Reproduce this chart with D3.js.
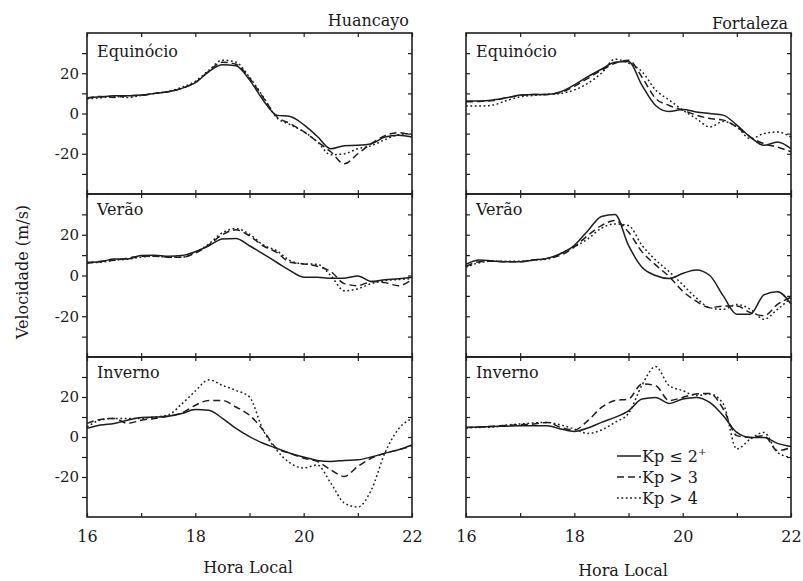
<!DOCTYPE html>
<html><head><meta charset="utf-8">
<script src="https://cdn.jsdelivr.net/npm/d3@7"></script>
<style>
body{margin:0;background:#fff}
svg{display:block}
text{font-family:"DejaVu Serif","Liberation Serif",serif;fill:#1a1a1a}
</style>
</head><body>
<svg id="chart" width="803" height="581"></svg>
<script>
// ---------- data ----------
const hours = [16,16.25,16.5,16.75,17,17.25,17.5,17.75,18,18.25,18.5,18.75,19,19.25,19.5,19.75,20,20.25,20.5,20.75,21,21.25,21.5,21.75,22];
const stations = ["Huancayo","Fortaleza"];
const seasons = ["Equinócio","Verão","Inverno"];
const seriesNames = ["Kp ≤ 2","Kp > 3","Kp > 4"];
const xTickValues = [16,17,18,19,20,21,22];
const xTickLabels = [16,18,20,22];
const yTickValues = [-30,-20,-10,0,10,20,30];
const yTickLabels = [-20,0,20];

// Huancayo - Equinócio
const huaEquiKp2 = [7.8,8.3,8.8,8.8,9.2,10,10.8,12.5,15.3,20.8,24.2,23.7,16.7,6.7,-0.8,-1.5,-5.5,-11.3,-17.5,-16,-15.8,-15,-11.7,-10.8,-11.7];
const huaEquiKp3 = [7.5,8.5,8,8.8,9,10,10.8,12.5,15.5,21,25.5,24.5,17.5,8,-1.5,-5,-9,-14,-19,-25,-20,-15,-11,-9.5,-11];
const huaEquiKp4 = [7.3,7.8,8.5,8,9,10,11,13,16,21.5,26.5,25.5,18,8.5,-2,-5.5,-9,-14,-20.5,-20,-17.5,-16,-13,-10.5,-10];
// Fortaleza - Equinócio
const forEquiKp2 = [6.2,6.2,6.7,7.8,9.2,9.5,9.5,10.8,14.2,18.3,22,25.5,25.8,14,4,1,2,0.8,0,-0.8,-5.8,-11.7,-15.8,-14.2,-17.5];
const forEquiKp3 = [5.8,6,6.5,7.8,9,9.5,9.5,10.5,13.5,17.5,21.5,25,26.5,18,7.5,4,1.7,-0.8,-2.5,-3.3,-6.7,-11.7,-15,-16.7,-19];
const forEquiKp4 = [3.7,3.7,4.2,6.5,8.3,9,9.5,10,11.7,15,20,27,25,20.8,11.7,6.7,1.7,-2.5,-6.7,-4,-6.7,-12.5,-10,-9.2,-11.7];
// Huancayo - Verão
const huaVerKp2 = [6.5,6.8,8.1,8.1,9.8,10,9.4,9.8,11.7,14.6,17.9,18.2,14.6,10.6,6.5,2.4,-0.8,-0.8,-1.3,-1.3,-0.2,-2.9,-2.1,-1.6,-0.8];
const huaVerKp3 = [6,7,7.5,8.5,9.5,9.5,9,9,11,15,20,22.4,19.5,14.6,11.4,6.5,5.7,4.5,2,-4,-5,-3,-3.5,-5,-2];
const huaVerKp4 = [6.3,6.5,7.5,8,9,9.5,9,9,11.5,15.5,21,23,20.3,15,12.2,7.3,5.7,5.5,0,-7.5,-6.5,-4,-2.5,-2,-1.5];
// Fortaleza - Verão
const forVerKp2 = [5.5,7.6,7.1,6.8,6.8,7.6,8.4,10.8,14.8,22,29,30,14.8,4,0,-1.5,1,2.7,0,-10,-19,-19,-9.5,-8,-14];
const forVerKp3 = [4.4,6.8,7,6.8,6.8,7.6,8.4,10,14,19.7,24.5,27,21.3,11.6,5.2,-0.5,-7.7,-12.6,-15.8,-15,-15,-18.2,-19.8,-14.2,-10.6];
const forVerKp4 = [4,6.3,7,7,7,7.6,8,10.8,14,18,23.2,25.3,24.5,14.8,7.6,1.9,-4.5,-11,-15.8,-16.6,-14.2,-16.6,-21.5,-16.6,-11];
// Huancayo - Inverno
const huaInvKp2 = [4.3,6,6.8,8.4,9.8,10,10.4,11.7,13.7,13.4,9.3,4.3,0.2,-3.1,-5.6,-8.1,-10,-11.7,-12.2,-11.7,-11.4,-10,-8.1,-6.4,-4];
const huaInvKp3 = [6.8,8.8,9.3,6.8,8.4,9.3,10.4,12,15.9,18.3,18.3,15,10.9,3.5,-5.6,-8.1,-10.6,-12.2,-16.4,-19.7,-14.7,-10.6,-8.1,-6.4,-4.5];
const huaInvKp4 = [5,8.5,9.3,9.3,9.3,10,11,16.5,23,28.6,25.8,23.3,20,3.5,-6.5,-13,-15.5,-14,-23,-33,-35,-26.4,-8,4,9.3];
// Fortaleza - Inverno
const forInvKp2 = [4.8,5,5.2,5.4,5.6,5.6,5.6,4,2.8,4.5,7.3,9.8,13.1,19,19.8,16.8,19,19.8,17.3,10.6,2.3,-0.2,-0.2,-3.2,-4.8];
const forInvKp3 = [4.8,5,5.4,5.8,6.2,6.5,7.3,4.8,3.5,8.2,14.8,18.2,19,26.5,25.7,18.2,19.8,21.5,21.8,14,0.7,-0.2,0.7,-6.8,-5.2];
const forInvKp4 = [4.5,4.8,5,6,6.5,7,7.3,6,4,1.8,3.5,7.3,11.8,26,35.2,25.7,23.2,20.7,21.5,16.5,-6,-1,2.3,-7.7,-10.2];

// grid of panels [row][col] -> three series
const panelSeries = [
  [[huaEquiKp2,huaEquiKp3,huaEquiKp4],[forEquiKp2,forEquiKp3,forEquiKp4]],
  [[huaVerKp2,huaVerKp3,huaVerKp4],[forVerKp2,forVerKp3,forVerKp4]],
  [[huaInvKp2,huaInvKp3,huaInvKp4],[forInvKp2,forInvKp3,forInvKp4]]
];

// ---------- layout ----------
const cols = [{x0:87,x1:412},{x0:466,x1:791}];
const rows = [{y0:33,y1:194},{y0:194,y1:357},{y0:357,y1:517}];
const ink = "#1e1e1e";
const dashes = [null,"7,4","1.8,2.6"];

const svg = d3.select("#chart");
svg.append("rect").attr("width",803).attr("height",581).attr("fill","#fff");

function styleAxis(g){
  g.select(".domain").remove();
  g.selectAll("line").attr("stroke",ink).attr("stroke-width",1.2);
  g.selectAll("text").attr("font-family",'"DejaVu Serif","Liberation Serif",serif')
    .attr("font-size",15).attr("fill",ink);
}

cols.forEach((c,ci)=>{
  const x = d3.scaleLinear().domain([16,22]).range([c.x0,c.x1]);
  rows.forEach((r,ri)=>{
    const y = d3.scaleLinear().domain([-40,40]).range([r.y1,r.y0]);
    const g = svg.append("g");

    // ticks
    g.append("g").attr("transform",`translate(0,${r.y1})`)
      .call(d3.axisBottom(x).tickValues(xTickValues).tickSize(-4).tickFormat("")).call(styleAxis);
    g.append("g").attr("transform",`translate(0,${r.y0})`)
      .call(d3.axisTop(x).tickValues(xTickValues).tickSize(-4).tickFormat("")).call(styleAxis);
    g.append("g").attr("transform",`translate(${c.x0},0)`)
      .call(d3.axisLeft(y).tickValues(yTickValues).tickSize(ci===0?5:-4).tickFormat("")).call(styleAxis);
    g.append("g").attr("transform",`translate(${c.x1},0)`)
      .call(d3.axisRight(y).tickValues(yTickValues).tickSize(-4).tickFormat("")).call(styleAxis);

    if(ci===0){
      g.append("g").attr("transform",`translate(${c.x0},0)`)
        .call(d3.axisLeft(y).tickValues(yTickLabels).tickSize(0).tickPadding(8).tickFormat(d=>d))
        .call(styleAxis);
    }
    if(ri===rows.length-1){
      g.append("g").attr("transform",`translate(0,${r.y1})`)
        .call(d3.axisBottom(x).tickValues(xTickLabels).tickSize(0).tickPadding(14).tickFormat(d=>d))
        .call(styleAxis).selectAll("text").attr("font-size",16);
    }

    // lines
    const line = d3.line().x((d,i)=>x(hours[i])).y(d=>y(d)).curve(d3.curveMonotoneX);
    panelSeries[ri][ci].forEach((vals,si)=>{
      g.append("path").datum(vals).attr("d",line)
        .attr("fill","none").attr("stroke",ink).attr("stroke-width",1.5)
        .attr("stroke-dasharray",dashes[si]).attr("stroke-linejoin","round");
    });

    // frame
    g.append("rect").attr("x",c.x0).attr("y",r.y0).attr("width",c.x1-c.x0).attr("height",r.y1-r.y0)
      .attr("fill","none").attr("stroke",ink).attr("stroke-width",1.6);

    // season label
    g.append("text").attr("x",c.x0+10).attr("y",r.y0+(ri===0?24:21))
      .attr("font-size",16).text(seasons[ri]);
  });

  // station title
  svg.append("text").attr("x",ci===0?409:788).attr("y",ci===0?26:29)
    .attr("text-anchor","end").attr("font-size",16).text(stations[ci]);
  // x axis title
  svg.append("text").attr("x",ci===0?248:623).attr("y",ci===0?573:576)
    .attr("text-anchor","middle").attr("font-size",16).text("Hora Local");
});

// y axis title
svg.append("text").attr("transform","translate(28,272) rotate(-90)")
  .attr("text-anchor","middle").attr("font-size",16).text("Velocidade (m/s)");

// legend
const legY = [456,477,498];
seriesNames.forEach((n,i)=>{
  svg.append("line").attr("x1",617).attr("x2",641).attr("y1",legY[i]).attr("y2",legY[i])
    .attr("stroke",ink).attr("stroke-width",1.5).attr("stroke-dasharray",dashes[i]);
  const t = svg.append("text").attr("x",642).attr("y",legY[i]+6).attr("font-size",16).text(n);
  if(i===0) t.append("tspan").attr("dy",-7).attr("font-size",10).text("+");
});
</script>
</body></html>
